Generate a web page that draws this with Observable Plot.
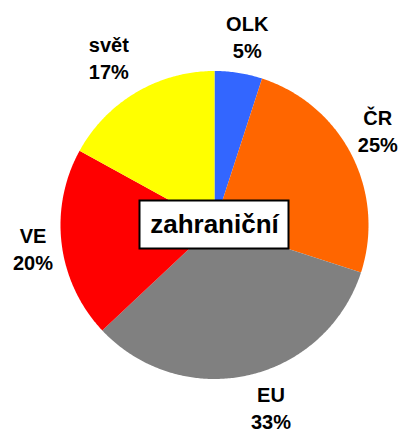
<!DOCTYPE html>
<html>
<head>
<meta charset="utf-8">
<script src="https://cdn.jsdelivr.net/npm/d3@7"></script>
<script src="https://cdn.jsdelivr.net/npm/@observablehq/plot@0.6"></script>
<style>
  html, body { margin: 0; padding: 0; background: #fff; }
  #chart { width: 401px; height: 432px; }
</style>
</head>
<body>
<div id="chart"></div>
<script>
// ---- data ----
const categories = ["OLK", "ČR", "EU", "VE", "svět"];
const values = [5, 25, 33, 20, 17];
const colors = ["#3366FF", "#FF6600", "#808080", "#FF0000", "#FFFF00"];
const centerLabel = "zahraniční";

// ---- layout ----
const W = 401, H = 432;
const CX = 214, CY = 224.5;   // pixel center of the pie
const R = 154;                // pie radius (px)
const LABEL_R = 190;          // label radius (px)
const BOX_W = 149, BOX_H = 48;
// pixel nudges for the outside labels (right, down), like Excel's best-fit placement
const LABEL_NUDGE = { "OLK": [3, -1], "ČR": [-6, -9], "EU": [15, -4], "VE": [7, -1], "svět": [-9, -5] };

const total = d3.sum(values);
const pie = d3.pie().sort(null).value(d => d.value)(
  categories.map((name, i) => ({ name, value: values[i] }))
);

// slice outlines (angles from top, clockwise)
const slicePoints = [];
for (const s of pie) {
  slicePoints.push({ name: s.data.name, x: 0, y: 0 });
  const n = Math.max(2, Math.ceil((s.endAngle - s.startAngle) / 0.01));
  for (let k = 0; k <= n; k++) {
    const a = s.startAngle + (s.endAngle - s.startAngle) * k / n;
    slicePoints.push({ name: s.data.name, x: R * Math.sin(a), y: R * Math.cos(a) });
  }
}

const labels = pie.map(s => {
  const a = (s.startAngle + s.endAngle) / 2;
  const [nx, ny] = LABEL_NUDGE[s.data.name] || [0, 0];
  return {
    text: `${s.data.name}\n${Math.round(s.data.value / total * 100)}%`,
    x: LABEL_R * Math.sin(a) + nx,
    y: LABEL_R * Math.cos(a) - ny
  };
});

const chart = Plot.plot({
  width: W,
  height: H,
  marginTop: 0, marginRight: 0, marginBottom: 0, marginLeft: 0,
  x: { domain: [-CX, W - CX], range: [0, W], axis: null },
  y: { domain: [CY - H, CY], range: [H, 0], axis: null },
  color: { domain: categories, range: colors },
  style: { fontFamily: "'Liberation Sans', Arial, sans-serif", background: "#fff" },
  marks: [
    Plot.line(slicePoints, {
      x: "x", y: "y", z: "name", fill: "name", stroke: null,
      curve: "linear-closed"
    }),
    Plot.rect([centerLabel], {
      x1: () => -BOX_W / 2, x2: () => BOX_W / 2,
      y1: () => -BOX_H / 2, y2: () => BOX_H / 2,
      fill: "white", stroke: "black", strokeWidth: 2
    }),
    Plot.text([centerLabel], {
      x: () => 0, y: () => 0, text: d => d,
      fontSize: 26, fontWeight: "bold", fill: "black"
    }),
    Plot.text(labels, {
      x: "x", y: "y", text: "text",
      fontSize: 20, fontWeight: "bold", fill: "black", lineHeight: 1.35
    })
  ]
});

document.getElementById("chart").append(chart);
</script>
</body>
</html>
